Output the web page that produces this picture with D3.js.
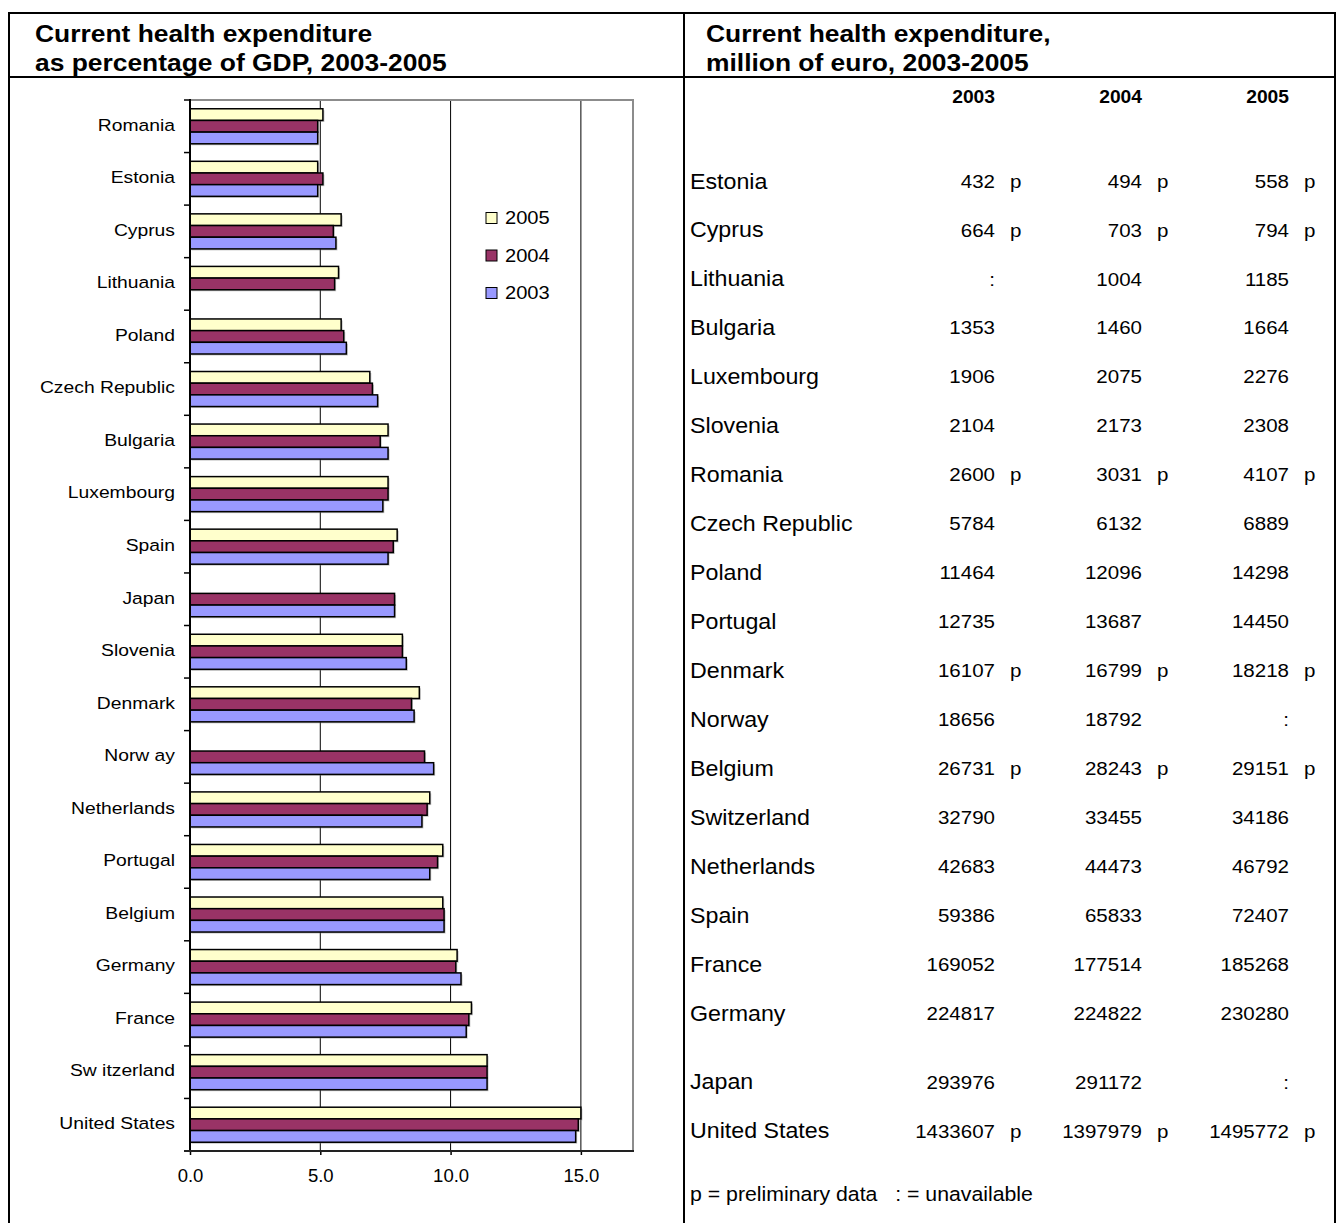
<!DOCTYPE html>
<html>
<head>
<meta charset="utf-8">
<script src="https://cdn.jsdelivr.net/npm/d3@7"></script>
<style>
  html, body { margin: 0; padding: 0; background: #fff; }
  svg text { font-family: Arial, "Liberation Sans", sans-serif; fill: #000; }
</style>
</head>
<body>
<svg id="chart" width="1337" height="1223"></svg>
<script>
// ---- Health expenditure as % of GDP (bar chart) ----
const categories = ["Romania", "Estonia", "Cyprus", "Lithuania", "Poland", "Czech Republic",
  "Bulgaria", "Luxembourg", "Spain", "Japan", "Slovenia", "Denmark", "Norw ay", "Netherlands",
  "Portugal", "Belgium", "Germany", "France", "Sw itzerland", "United States"];
const gdp2005 = [5.1, 4.9, 5.8, 5.7, 5.8, 6.9, 7.6, 7.6, 7.95, null, 8.15, 8.8, null, 9.2,
  9.7, 9.7, 10.25, 10.8, 11.4, 15.0];
const gdp2004 = [4.9, 5.1, 5.5, 5.55, 5.9, 7.0, 7.3, 7.6, 7.8, 7.85, 8.15, 8.5, 9.0, 9.1,
  9.5, 9.75, 10.2, 10.7, 11.4, 14.9];
const gdp2003 = [4.9, 4.9, 5.6, null, 6.0, 7.2, 7.6, 7.4, 7.6, 7.85, 8.3, 8.6, 9.35, 8.9,
  9.2, 9.75, 10.4, 10.6, 11.4, 14.8];
const years = ["2005", "2004", "2003"];
const xTicks = [0, 5, 10, 15];

// ---- Health expenditure in million euro (table) ----
const tableCountries = ["Estonia", "Cyprus", "Lithuania", "Bulgaria", "Luxembourg", "Slovenia",
  "Romania", "Czech Republic", "Poland", "Portugal", "Denmark", "Norway", "Belgium",
  "Switzerland", "Netherlands", "Spain", "France", "Germany", "Japan", "United States"];
const nonEU = ["Japan", "United States"];
const eur2003 = [432, 664, null, 1353, 1906, 2104, 2600, 5784, 11464, 12735, 16107, 18656,
  26731, 32790, 42683, 59386, 169052, 224817, 293976, 1433607];
const eur2004 = [494, 703, 1004, 1460, 2075, 2173, 3031, 6132, 12096, 13687, 16799, 18792,
  28243, 33455, 44473, 65833, 177514, 224822, 291172, 1397979];
const eur2005 = [558, 794, 1185, 1664, 2276, 2308, 4107, 6889, 14298, 14450, 18218, null,
  29151, 34186, 46792, 72407, 185268, 230280, null, 1495772];
const prelim2003 = ["Estonia", "Cyprus", "Romania", "Denmark", "Belgium", "United States"];
const prelim2004 = ["Estonia", "Cyprus", "Romania", "Denmark", "Belgium", "United States"];
const prelim2005 = ["Estonia", "Cyprus", "Romania", "Denmark", "Belgium", "United States"];

const colors = { "2005": "#FFFFCC", "2004": "#993366", "2003": "#9999FF" };
const seriesByYear = { "2005": gdp2005, "2004": gdp2004, "2003": gdp2003 };

const svg = d3.select("#chart");

// Places a text node at (x, y) with an optional horizontal stretch.
function placeText(sel, x, y, sx) {
  return sel.attr("transform", `translate(${x},${y}) scale(${sx || 1},1)`);
}

// ---------- frame ----------
const frame = svg.append("g").attr("stroke", "#000").attr("stroke-width", 2);
frame.append("rect").attr("x", 9).attr("y", 13).attr("width", 1326).attr("height", 1220)
  .attr("fill", "none");
frame.append("line").attr("x1", 9).attr("x2", 1336).attr("y1", 77).attr("y2", 77);
frame.append("line").attr("x1", 684).attr("x2", 684).attr("y1", 13).attr("y2", 1223);

// ---------- titles ----------
const titles = [
  { x: 35, lines: ["Current health expenditure", "as percentage of GDP, 2003-2005"] },
  { x: 706, lines: ["Current health expenditure,", "million of euro, 2003-2005"] }
];
titles.forEach(t => {
  t.lines.forEach((line, i) => {
    placeText(svg.append("text"), t.x, 42 + i * 29, 1.1)
      .attr("font-size", 24).attr("font-weight", "bold").text(line);
  });
});

// ---------- bar chart ----------
const x = d3.scaleLinear().domain([0, 17]).range([190, 633]);
const y = d3.scaleBand().domain(categories).range([100, 1151])
  .paddingInner(1 / 3).paddingOuter(1 / 6);
const ySub = d3.scaleBand().domain(years).range([0, y.bandwidth()]);

const plot = svg.append("g");

// vertical gridlines
plot.selectAll("line.grid").data(xTicks.filter(d => d > 0)).join("line")
  .attr("class", "grid")
  .attr("x1", d => x(d)).attr("x2", d => x(d))
  .attr("y1", 100).attr("y2", 1151)
  .attr("stroke", "#000").attr("stroke-width", 1);

// plot area border (top and right)
plot.append("line").attr("x1", 190).attr("x2", 634).attr("y1", 100).attr("y2", 100)
  .attr("stroke", "#8c8c8c").attr("stroke-width", 2);
plot.append("line").attr("x1", 633).attr("x2", 633).attr("y1", 100).attr("y2", 1151)
  .attr("stroke", "#8c8c8c").attr("stroke-width", 2);

// bars with a soft drop shadow
const rows = categories.map((c, i) => ({
  c, vals: years.map(yr => ({ year: yr, v: seriesByYear[yr][i] })).filter(d => d.v != null)
}));
const groups = plot.selectAll("g.cat").data(rows).join("g")
  .attr("class", "cat")
  .attr("transform", d => `translate(0,${y(d.c)})`);

groups.selectAll("rect.shadow").data(d => d.vals).join("rect")
  .attr("class", "shadow")
  .attr("x", x(0) + 1.5).attr("y", d => ySub(d.year) + 1.5)
  .attr("width", d => x(d.v) - x(0)).attr("height", ySub.bandwidth())
  .attr("fill", "#7a7a7a").attr("opacity", 0.45);

groups.selectAll("rect.bar").data(d => d.vals).join("rect")
  .attr("class", "bar")
  .attr("x", x(0)).attr("y", d => ySub(d.year))
  .attr("width", d => x(d.v) - x(0)).attr("height", ySub.bandwidth())
  .attr("fill", d => colors[d.year])
  .attr("stroke", "#000").attr("stroke-width", 1.5);

// left axis: line, ticks at category boundaries, labels at band centres
const leftAxis = svg.append("g");
leftAxis.append("line").attr("x1", 190).attr("x2", 190).attr("y1", 99).attr("y2", 1152)
  .attr("stroke", "#000").attr("stroke-width", 2);
const boundaries = d3.range(categories.length + 1).map(i => y.range()[0] + i * y.step());
leftAxis.selectAll("line.tick").data(boundaries).join("line")
  .attr("class", "tick")
  .attr("x1", 184).attr("x2", 190).attr("y1", d => d).attr("y2", d => d)
  .attr("stroke", "#000").attr("stroke-width", 1.5);
leftAxis.selectAll("text").data(categories).join("text")
  .each(function (d) {
    placeText(d3.select(this), 175, y(d) + y.bandwidth() / 2 - 1.5, 1.17);
  })
  .attr("dy", "0.35em")
  .attr("text-anchor", "end").attr("font-size", 16.5).text(d => d);

// bottom axis
const bottom = svg.append("g").attr("transform", "translate(0,1151)")
  .call(d3.axisBottom(x).tickValues(xTicks).tickFormat(d3.format(".1f")).tickSize(4).tickPadding(14));
bottom.select(".domain").remove();
bottom.selectAll(".tick line").attr("stroke", "#000").attr("stroke-width", 1.5);
bottom.selectAll(".tick text").attr("font-size", 18.5).attr("font-family", "Arial, 'Liberation Sans', sans-serif")
  .attr("fill", "#000");
svg.append("line").attr("x1", 184).attr("x2", 634).attr("y1", 1151).attr("y2", 1151)
  .attr("stroke", "#222").attr("stroke-width", 2);

// legend
const legend = svg.append("g");
const legendY = d3.scalePoint().domain(years).range([218, 293]);
legend.selectAll("rect").data(years).join("rect")
  .attr("x", 486).attr("y", d => legendY(d) - 5.5).attr("width", 11).attr("height", 11)
  .attr("fill", d => colors[d]).attr("stroke", "#000").attr("stroke-width", 1);
legend.selectAll("text").data(years).join("text")
  .each(function (d) { placeText(d3.select(this), 505, legendY(d), 1.15); })
  .attr("dy", "0.35em").attr("font-size", 17.5).text(d => d);

// ---------- table ----------
const table = svg.append("g");
const yRow = d3.scalePoint().domain(tableCountries).range([181, 181 + 19 * 48.94]);
const rowY = c => yRow(c) + (nonEU.includes(c) ? 20 : 0);
const columns = [
  { year: "2003", vals: eur2003, prelim: prelim2003, right: 995 },
  { year: "2004", vals: eur2004, prelim: prelim2004, right: 1142 },
  { year: "2005", vals: eur2005, prelim: prelim2005, right: 1289 }
];

// column headers
table.selectAll("text.head").data(columns).join("text")
  .attr("class", "head")
  .each(function (d) { placeText(d3.select(this), d.right, 97, 1.1); })
  .attr("dy", "0.35em").attr("text-anchor", "end")
  .attr("font-size", 17.5).attr("font-weight", "bold").text(d => d.year);

// country names
table.selectAll("text.name").data(tableCountries).join("text")
  .attr("class", "name")
  .each(function (d) { placeText(d3.select(this), 690, rowY(d), 1.08); })
  .attr("dy", "0.35em").attr("font-size", 21.5).text(d => d);

// values and preliminary flags
columns.forEach(col => {
  const cells = tableCountries.map((c, i) => ({ c, v: col.vals[i], p: col.prelim.includes(c) }));
  table.selectAll(null).data(cells).join("text")
    .each(function (d) { placeText(d3.select(this), col.right, rowY(d.c), 1.08); })
    .attr("dy", "0.35em").attr("text-anchor", "end").attr("font-size", 19)
    .text(d => d.v == null ? ":" : String(d.v));
  table.selectAll(null).data(cells.filter(d => d.p)).join("text")
    .each(function (d) { placeText(d3.select(this), col.right + 15, rowY(d.c), 1.08); })
    .attr("dy", "0.35em").attr("font-size", 19).text("p");
});

// footnote
placeText(table.append("text"), 690, 1194, 1.08)
  .attr("dy", "0.35em").attr("font-size", 19.7).style("white-space", "pre")
  .text("p = preliminary data   : = unavailable");
</script>
</body>
</html>
